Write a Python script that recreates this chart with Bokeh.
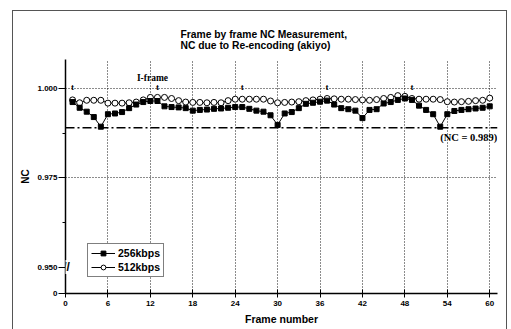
from bokeh.plotting import figure
from bokeh.models import (Range1d, FixedTicker, Span, Label, Legend, LegendItem,
                          InlineStyleSheet)
from bokeh.core.properties import value
from bokeh.embed import file_html
from bokeh.resources import INLINE

# ---------------- data ----------------
FRAMES = [1, 2, 3, 4, 5, 6, 7, 8, 9, 10, 11, 12, 13, 14, 15, 16, 17, 18, 19, 20,
          21, 22, 23, 24, 25, 26, 27, 28, 29, 30, 31, 32, 33, 34, 35, 36, 37, 38, 39, 40,
          41, 42, 43, 44, 45, 46, 47, 48, 49, 50, 51, 52, 53, 54, 55, 56, 57, 58, 59, 60]

NC_256 = [0.9962, 0.9946, 0.9935, 0.9920, 0.9893, 0.9928, 0.9930, 0.9934, 0.9945, 0.9955,
          0.9962, 0.9965, 0.9965, 0.9950, 0.9948, 0.9947, 0.9945, 0.9938, 0.9940, 0.9941,
          0.9943, 0.9944, 0.9946, 0.9948, 0.9948, 0.9943, 0.9938, 0.9935, 0.9925, 0.9898,
          0.9930, 0.9934, 0.9945, 0.9957, 0.9960, 0.9963, 0.9966, 0.9955, 0.9945, 0.9942,
          0.9938, 0.9917, 0.9940, 0.9942, 0.9958, 0.9962, 0.9968, 0.9972, 0.9968, 0.9952,
          0.9940, 0.9928, 0.9893, 0.9928, 0.9937, 0.9940, 0.9942, 0.9944, 0.9946, 0.9950]

NC_512 = [0.9968, 0.9960, 0.9967, 0.9967, 0.9967, 0.9959, 0.9959, 0.9959, 0.9960, 0.9962,
          0.9968, 0.9975, 0.9975, 0.9975, 0.9972, 0.9966, 0.9962, 0.9961, 0.9961, 0.9960,
          0.9961, 0.9960, 0.9966, 0.9970, 0.9970, 0.9970, 0.9970, 0.9970, 0.9965, 0.9960,
          0.9961, 0.9962, 0.9963, 0.9966, 0.9968, 0.9970, 0.9972, 0.9971, 0.9970, 0.9970,
          0.9969, 0.9968, 0.9967, 0.9969, 0.9972, 0.9975, 0.9980, 0.9978, 0.9972, 0.9970,
          0.9970, 0.9970, 0.9969, 0.9963, 0.9962, 0.9963, 0.9964, 0.9966, 0.9967, 0.9973]

SERIES_NAMES = ["256kbps", "512kbps"]
X_TICKS = [0, 6, 12, 18, 24, 30, 36, 42, 48, 54, 60]
Y_TICKS = [0.950, 0.975, 1.000]
Y_TICK_LABELS = ["0.950", "0.975", "1.000"]
Y_MINOR_TICKS = [0.9625, 0.9875]
ZERO_LABEL = "0"
THRESHOLD = 0.989
THRESHOLD_LABEL = "(NC = 0.989)"
IFRAMES = [1, 13, 25, 37, 49]
IFRAME_LABEL = "I-frame"
TITLE = "Frame by frame NC Measurement,\nNC due to Re-encoding  (akiyo)"
X_LABEL = "Frame number"
Y_LABEL = "NC"

# ---------------- layout constants ----------------
Y_BOTTOM = 0.94258   # broken axis: where "0" is drawn
Y_TOP = 1.00812
X_MAX = 61.1
SANS = "Liberation Sans"
SERIF = "Liberation Serif"

p = figure(width=511, height=329, output_backend="svg", toolbar_location=None,
           x_range=Range1d(0, X_MAX), y_range=Range1d(Y_BOTTOM, Y_TOP),
           min_border_left=65, min_border_right=14, min_border_top=59,
           min_border_bottom=36,
           background_fill_color="white", border_fill_color="white")
p.outline_line_color = None
p.stylesheets = [InlineStyleSheet(css="""
:host { position: relative; }
:host::after { content: ''; position: absolute; left: 12px; top: 10px;
  width: 495px; height: 330px; border: 1px solid #555; pointer-events: none;
  box-sizing: border-box; z-index: 10; }
""")]

# title
p.title.text = TITLE
p.title.align = "left"
p.title.offset = 115
p.title.text_font = SANS
p.title.text_font_size = "10.3px"
p.title.text_font_style = "bold"
p.title.text_color = "black"
p.title.standoff = 18

# axes
for ax in (p.xaxis[0], p.yaxis[0]):
    ax.axis_line_color = "black"
    ax.axis_line_width = 1.5
    ax.major_tick_line_color = "black"
    ax.minor_tick_line_color = "black"
    ax.major_label_text_font = SANS
    ax.major_label_text_font_size = "8px"
    ax.major_label_text_font_style = "bold"
    ax.major_label_text_color = "black"
    ax.axis_label_text_font = SANS
    ax.axis_label_text_font_style = "bold"
    ax.axis_label_text_color = "black"

xa = p.xaxis[0]
xa.ticker = FixedTicker(ticks=X_TICKS)
xa.major_tick_in = 4
xa.major_tick_out = 4
xa.minor_tick_in = 0
xa.minor_tick_out = 0
xa.major_label_standoff = 3
xa.axis_label = X_LABEL
xa.axis_label_text_font_size = "10.5px"
xa.axis_label_standoff = 4

ya = p.yaxis[0]
ya.ticker = FixedTicker(ticks=[Y_BOTTOM] + Y_TICKS, minor_ticks=Y_MINOR_TICKS)
overrides = {Y_BOTTOM: ZERO_LABEL}
for t, lab in zip(Y_TICKS, Y_TICK_LABELS):
    overrides[t] = lab
ya.major_label_overrides = overrides
ya.major_tick_in = 0
ya.major_tick_out = 7
ya.minor_tick_in = 0
ya.minor_tick_out = 3
ya.major_label_standoff = 1
ya.axis_label = Y_LABEL
ya.axis_label_text_font_size = "10px"
ya.axis_label_standoff = 3

# grid
p.xgrid.ticker = FixedTicker(ticks=X_TICKS[1:])
p.ygrid.ticker = FixedTicker(ticks=Y_TICKS[1:])
for g in (p.xgrid[0], p.ygrid[0]):
    g.grid_line_color = "black"
    g.grid_line_dash = "1 2"
    g.grid_line_width = 1
    g.grid_line_alpha = 0.9

# threshold line
p.add_layout(Span(location=THRESHOLD, dimension="width", line_color="black",
                  line_width=1.3, line_dash="9 3 2 3"))
p.add_layout(Label(x=X_MAX - 0.05, y=THRESHOLD - 0.0026, text=THRESHOLD_LABEL,
                   text_align="right", text_baseline="middle",
                   text_font=SERIF, text_font_size="10.5px",
                   text_font_style="bold", text_color="black"))

# I-frame marks
p.text(x=IFRAMES, y=[Y_TICKS[-1]] * len(IFRAMES), text=["t"] * len(IFRAMES),
       text_align="center", text_baseline="alphabetic", y_offset=-1,
       text_font=value(SERIF), text_font_size="9px", text_font_style="bold",
       text_color="black")
p.add_layout(Label(x=IFRAMES[1] - 0.7, y=1.0028, text=IFRAME_LABEL,
                   text_align="center", text_baseline="alphabetic",
                   text_font=SERIF, text_font_size="9.5px",
                   text_font_style="bold", text_color="black"))

# series
l512 = p.line(FRAMES, NC_512, line_color="black", line_width=1)
s512 = p.scatter(FRAMES, NC_512, marker="circle", size=6, fill_color="white",
                 line_color="black", line_width=1)
l256 = p.line(FRAMES, NC_256, line_color="black", line_width=1)
s256 = p.scatter(FRAMES, NC_256, marker="square", size=5, fill_color="black",
                 line_color="black")

legend = Legend(items=[LegendItem(label=SERIES_NAMES[0], renderers=[l256, s256]),
                       LegendItem(label=SERIES_NAMES[1], renderers=[l512, s512])],
                location=(22, 16))
legend.label_text_font = SANS
legend.label_text_font_size = "10.5px"
legend.label_text_font_style = "bold"
legend.label_text_color = "black"
legend.border_line_color = "black"
legend.border_line_width = 1
legend.background_fill_color = "white"
legend.background_fill_alpha = 1
legend.glyph_width = 24
legend.glyph_height = 12
legend.label_height = 12
legend.label_standoff = 3
legend.padding = 3
legend.spacing = 2
legend.margin = 0
p.add_layout(legend)

# axis break mark
p.add_layout(Label(x=0, y=Y_TICKS[0], x_offset=1, text="//", text_align="center",
                   text_baseline="middle", text_font=SANS,
                   text_font_size="12px", text_font_style="bold",
                   text_color="black", background_fill_color="white"))

open("out.html", "w").write(file_html(p, INLINE))
